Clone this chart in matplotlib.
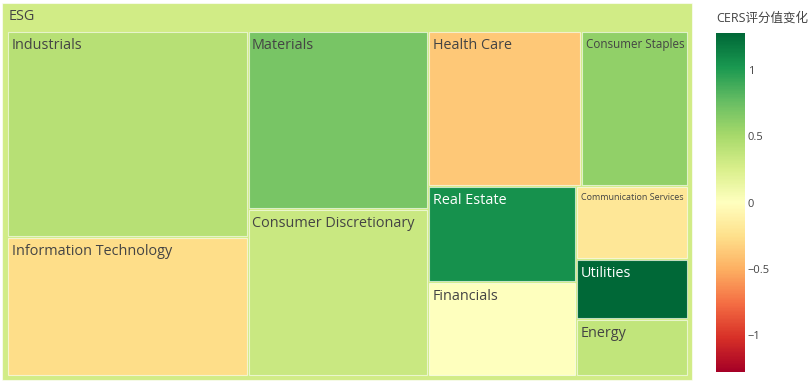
import numpy as np
import matplotlib
matplotlib.use('Agg')
import matplotlib.pyplot as plt
from matplotlib.patches import Rectangle
from matplotlib.colors import Normalize, to_rgb

# #### Data
sectors = ['Industrials', 'Information Technology', 'Materials', 'Consumer Discretionary',
           'Health Care', 'Consumer Staples', 'Real Estate', 'Financials',
           'Communication Services', 'Utilities', 'Energy']
sizes = [49.4, 33.4, 32.2, 30.2, 23.7, 16.6, 14.2, 13.9, 8.2, 6.7, 6.4]
cers_change = [0.42, -0.27, 0.69, 0.33, -0.38, 0.60, 1.05, 0.0, -0.20, 1.28, 0.37]
root_label = 'ESG'
cbar_title = 'CERS评分值变化'
cbar_ticks = [-1, -0.5, 0, 0.5, 1]

# #### Settings
W, H = 812, 381
font = 'Open Sans'
txt_dark = '#444444'
cmap = plt.get_cmap('RdYlGn')
cmax = max(abs(v) for v in cers_change)
norm = Normalize(vmin=-cmax, vmax=cmax)
root_val = np.average(cers_change, weights=sizes)


def squarify(values, x0, y0, x1, y1, ratio=1.0):
    # d3-hierarchy squarify (as used by plotly treemaps)
    rects = []
    value = float(sum(values))
    n = len(values)
    i0 = i1 = 0
    while i0 < n:
        dx, dy = x1 - x0, y1 - y0
        sum_v = values[i1]; i1 += 1
        min_v = max_v = sum_v
        alpha = max(dy / dx, dx / dy) / (value * ratio)
        beta = sum_v * sum_v * alpha
        min_ratio = max(max_v / beta, beta / min_v)
        while i1 < n:
            v = values[i1]
            s = sum_v + v
            mn, mx = min(min_v, v), max(max_v, v)
            beta = s * s * alpha
            new_ratio = max(mx / beta, beta / mn)
            if new_ratio > min_ratio:
                break
            sum_v, min_v, max_v, min_ratio = s, mn, mx, new_ratio
            i1 += 1
        row = values[i0:i1]
        if dx < dy:   # dice: horizontal row at top
            ny = y0 + dy * sum_v / value
            xx = x0
            for v in row:
                w = dx * v / sum_v
                rects.append((xx, y0, xx + w, ny))
                xx += w
            y0 = ny
        else:         # slice: vertical column on the left
            nx = x0 + dx * sum_v / value
            yy = y0
            for v in row:
                h = dy * v / sum_v
                rects.append((x0, yy, nx, yy + h))
                yy += h
            x0 = nx
        value -= sum_v
        i0 = i1
    return rects


def text_color(c):
    r, g, b = to_rgb(c)
    lum = 0.299 * r + 0.587 * g + 0.114 * b
    return 'white' if lum < 0.5 else txt_dark


# #### Figure
fig = plt.figure(figsize=(W / 100, H / 100), dpi=100)
ax = fig.add_axes([0, 0, 1, 1])
ax.set_xlim(0, W)
ax.set_ylim(H, 0)
ax.axis('off')

base_fs = 10.35

# root tile
root_box = (2.5, 2.5, 692, 380)
ax.add_patch(Rectangle((root_box[0], root_box[1]), root_box[2] - root_box[0], root_box[3] - root_box[1],
                       facecolor=cmap(norm(root_val)), edgecolor=(1, 1, 1, 0.6), linewidth=0.8))
ax.text(root_box[0] + 6.5, root_box[1] + 14, root_label, fontsize=base_fs, family=font,
        color=txt_dark, va='center', ha='left')

inner = (7.5, 30.5, 688.5, 376)
rects = squarify(sizes, *inner)
renderer = fig.canvas.get_renderer()
for name, val, (rx0, ry0, rx1, ry1) in zip(sectors, cers_change, rects):
    col = cmap(norm(val))
    ax.add_patch(Rectangle((rx0 + 1, ry0 + 1), rx1 - rx0 - 2, ry1 - ry0 - 2,
                           facecolor=col, edgecolor=(1, 1, 1, 0.6), linewidth=0.8))
    t = ax.text(rx0 + 4.5, ry0 + 7.5, name, fontsize=base_fs, family=font,
                color=text_color(col), va='top', ha='left')
    tw = t.get_window_extent(renderer).width
    avail = rx1 - rx0 - 9
    if tw > avail:
        t.set_fontsize(base_fs * avail / tw)

# colorbar
cax = fig.add_axes([716 / W, 1 - 372 / H, 29 / W, 339 / H])
sm = matplotlib.cm.ScalarMappable(norm=norm, cmap=cmap)
cb = fig.colorbar(sm, cax=cax, ticks=cbar_ticks)
cb.outline.set_visible(False)
cb.ax.tick_params(length=0, pad=2, labelsize=8, labelcolor=txt_dark)
cb.ax.set_yticklabels(['\u22121', '\u22120.5', '0', '0.5', '1'])
for lbl in cb.ax.get_yticklabels():
    lbl.set_family(font)
fig.text(716 / W, 1 - 18 / H, cbar_title, fontsize=9, color=txt_dark,
         family=[font, 'Noto Sans CJK SC'], va='center', ha='left')

plt.savefig('out.png', dpi=100, facecolor='w')
